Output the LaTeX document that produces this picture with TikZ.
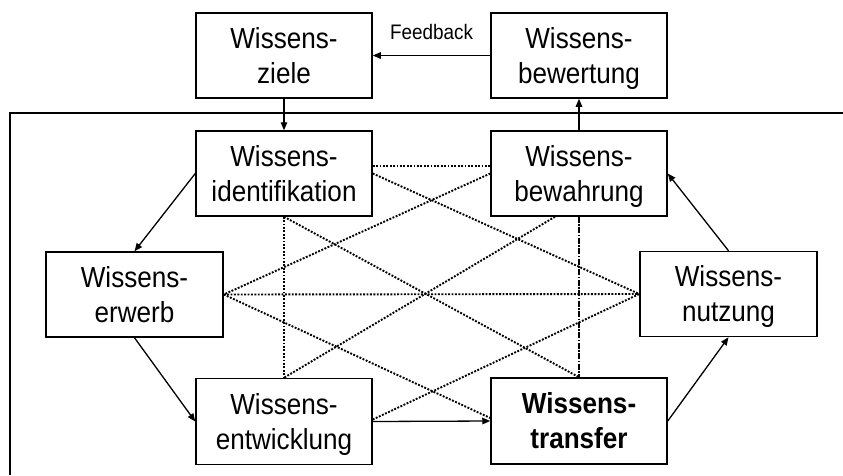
\documentclass[tikz,border=0pt]{standalone}
\usepackage{fontspec}
\setmainfont{Liberation Sans}
% slightly condensed face for the box labels
\newfontfamily\boxfont[FakeStretch=0.9]{Liberation Sans}
\usetikzlibrary{arrows.meta}
% every text line gets the same height and depth, so all boxes align alike
\newcommand\linestrut{\rule[-7.5pt]{0pt}{35pt}}
\newcommand\twoline[2]{\linestrut#1\\\linestrut#2}

\begin{document}
\begin{tikzpicture}[x=1pt,y=-1pt,
  box/.style={draw, line width=1.5pt, minimum width=176pt, minimum height=85pt,
    inner sep=0pt, align=center, font=\boxfont\fontsize{29}{35}\selectfont},
  flow/.style={line width=1.3pt, -{Triangle[length=8pt,width=6.5pt]}},
  link/.style={line width=1.9pt, dash pattern=on 1.9pt off 1.5pt},
  strong link/.style={line width=2.3pt, dash pattern=on 6pt off 1.5pt on 1.5pt off 1.5pt},
  frame/.style={line width=1.5pt}]
\useasboundingbox (0,0) rectangle (843,475);

% outer frame (open to the right and bottom)
\coordinate (frameBL) at (10,475);
\coordinate (frameTL) at (10,113);
\coordinate (frameTR) at (843,113);
\draw[frame] (frameBL) -- (frameTL) -- (frameTR);

% knowledge management building blocks
\node[box] (ziele)       at (284,55.5)  {\twoline{Wissens-}{ziele}};
\node[box] (bewertung)   at (579,55.5)  {\twoline{Wissens-}{bewertung}};
\node[box] (ident)       at (284,173.5) {\twoline{Wissens-}{identifikation}};
\node[box] (bewahrung)   at (579,173.5) {\twoline{Wissens-}{bewahrung}};
\node[box, minimum width=177pt] (erwerb)  at (134.5,294.5) {\twoline{Wissens-}{erwerb}};
\node[box, minimum width=177pt] (nutzung) at (728.5,294)   {\twoline{Wissens-}{nutzung}};
\node[box, minimum height=86pt] (entwicklung) at (284,421.5) {\twoline{Wissens-}{entwicklung}};
\node[box, minimum height=86pt, font=\boxfont\fontsize{29}{35}\selectfont\bfseries] (transfer) at (579,421) {\twoline{Wissens-}{transfer}};

% cross links between the core processes
\draw[link] ([yshift=7.5pt]ident.east) -- ([yshift=7.5pt]bewahrung.west);
\draw[link] (ident.east) -- (nutzung.west);
\draw[link] (bewahrung.west) -- (erwerb.east);
\draw[link] (ident.south) -- (entwicklung.north);
\draw[link] (ident.south) -- (transfer.north);
\draw[link] ([xshift=-24pt]bewahrung.south) -- (entwicklung.north);
\draw[link] (erwerb.east) -- (nutzung.west);
\draw[link] (erwerb.east) -- ([yshift=3pt]transfer.west);
\draw[link] ([yshift=2pt]entwicklung.east) -- (nutzung.west);
\draw[strong link] (bewahrung.south) -- (transfer.north);

% process cycle
\draw[flow] (ziele.south) -- (ident.north);
\draw[flow] (bewahrung.north) -- (bewertung.south);
\draw[flow] (bewertung.west) -- (ziele.east)
  node[midway, above=15pt, inner sep=0pt, font=\boxfont\fontsize{21}{25}\selectfont] (feedback) {Feedback};
\draw[flow] (ident.west) -- (erwerb.north);
\draw[flow] (erwerb.south) -- (entwicklung.west);
\draw[flow] (entwicklung.east) -- (transfer.west);
\draw[flow] (transfer.east) -- (nutzung.south);
\draw[flow] (nutzung.north) -- (bewahrung.east);
\end{tikzpicture}
\end{document}
